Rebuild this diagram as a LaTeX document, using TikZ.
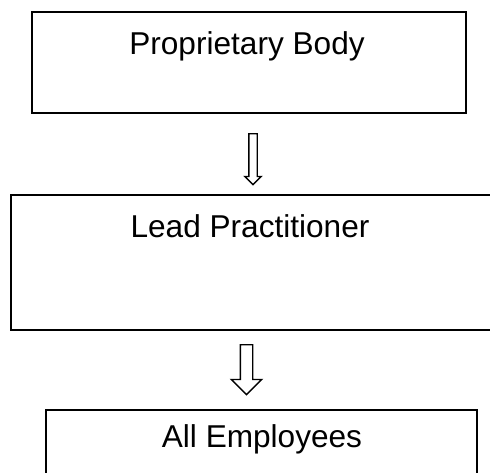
\documentclass[tikz,border=0pt]{standalone}
\usepackage{fontspec}
\setmainfont{Liberation Sans}
\usetikzlibrary{positioning,shapes.arrows}

\begin{document}
\begin{tikzpicture}[x=1pt,y=-1pt,node distance=19pt]
  \tikzstyle{box}=[draw,line width=2pt,rectangle,inner sep=0pt]
  \tikzstyle{caption}=[anchor=base,inner sep=0pt,font=\fontsize{31.6}{38}\selectfont]
  \tikzstyle{flow}=[draw,line width=1.4pt,single arrow,shape border rotate=270,inner sep=0pt,single arrow tip angle=90]
  \useasboundingbox (0,0) rectangle (490,472);
  \clip (0,0) rectangle (490,472);
  \node[box,minimum width=434pt,minimum height=101pt] (pb) at (249,62.5) {};
  \node[caption] (pbtext) at ([xshift=-2pt,yshift=-43pt]pb.north) {Proprietary Body};
  \node[flow,inner sep=3.5pt,single arrow head extend=4pt,minimum height=51pt,below=19pt of pb,xshift=4pt] (arr1) {};
  \node[box,minimum width=486pt,minimum height=135pt] (lp) at (254,262.5) {};
  \node[caption] (lptext) at ([xshift=-4pt,yshift=-43pt]lp.north) {Lead Practitioner};
  \node[flow,inner sep=5.5pt,single arrow head extend=9pt,minimum height=50pt,below=13pt of lp,xshift=-7.5pt] (arr2) {};
  \node[box,minimum width=431pt,minimum height=70pt] (ae) at (261.5,445) {};
  \node[caption] (aetext) at ([xshift=0.5pt,yshift=-38pt]ae.north) {All Employees};
\end{tikzpicture}
\end{document}
